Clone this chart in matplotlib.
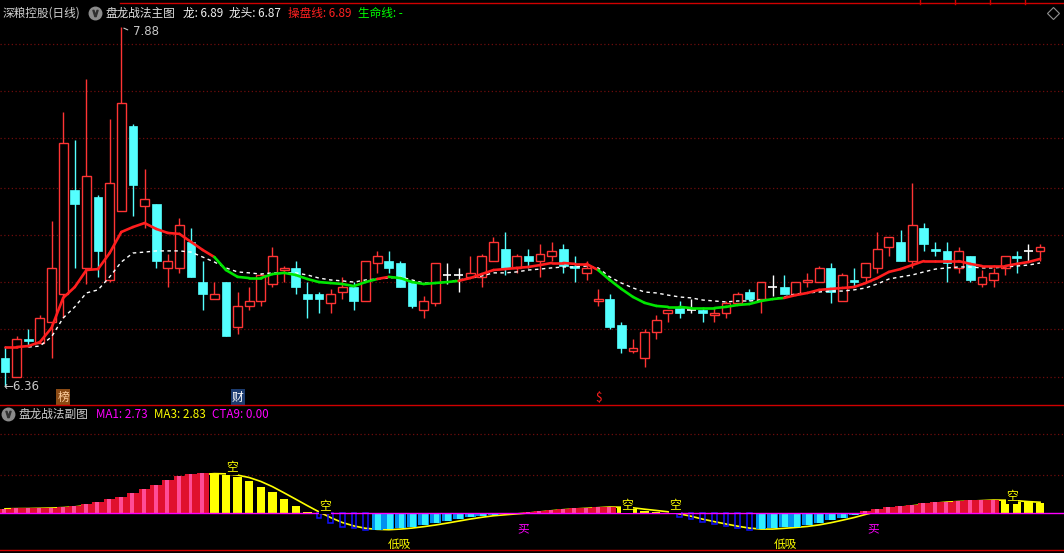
import matplotlib
matplotlib.use('Agg')
import matplotlib.pyplot as plt
import numpy as np
from matplotlib.patches import Rectangle
from matplotlib.collections import LineCollection
from matplotlib.lines import Line2D

plt.rcParams['font.family'] = ['Noto Sans CJK SC', 'DejaVu Sans']

nan = np.nan
opens = [6.48,6.40,6.56,6.54,6.63,6.75,7.19,6.86,7.16,6.81,
         7.10,7.46,7.12,7.13,6.86,6.86,6.97,6.80,6.73,6.80,
         6.61,6.70,6.72,6.79,6.85,6.86,6.75,6.75,6.71,6.76,
         6.78,6.72,6.88,6.89,6.88,6.80,6.68,6.71,6.83,6.83,
         6.82,6.82,6.89,6.94,6.86,6.91,6.89,6.91,6.94,6.87,
         6.84,6.72,6.73,6.62,6.51,6.48,6.59,6.67,6.69,6.68,
         6.68,6.66,6.67,6.71,6.76,6.73,6.78,6.78,6.75,6.80,
         6.80,6.86,6.72,6.81,6.82,6.86,6.95,6.97,6.89,7.03,
         6.94,6.93,6.86,6.91,6.79,6.81,6.86,6.91,6.93,6.93]
highs = [6.53,6.57,6.60,6.66,7.06,7.52,7.40,7.66,7.17,7.49,
         7.88,7.47,7.28,7.13,6.92,7.07,7.03,6.89,6.80,6.80,
         6.76,6.78,6.84,6.95,6.87,6.89,6.80,6.76,6.77,6.82,
         6.80,6.89,6.93,6.93,6.89,6.81,6.74,6.88,6.88,6.86,
         6.91,6.92,6.99,7.01,6.92,6.94,6.96,6.97,6.96,6.91,
         6.89,6.77,6.75,6.63,6.56,6.60,6.66,6.68,6.72,6.73,
         6.69,6.69,6.72,6.76,6.77,6.80,6.83,6.83,6.80,6.84,
         6.87,6.88,6.84,6.86,6.88,7.01,6.99,7.02,7.22,7.05,
         6.97,6.97,6.95,6.91,6.85,6.86,6.91,6.93,6.96,6.96]
lows = [6.36,6.40,6.53,6.54,6.48,6.65,6.86,6.79,6.82,6.80,
        7.10,7.08,7.03,6.86,6.78,6.84,6.82,6.68,6.73,6.57,
        6.58,6.68,6.70,6.78,6.80,6.75,6.65,6.67,6.67,6.73,
        6.68,6.72,6.84,6.84,6.78,6.69,6.65,6.70,6.79,6.76,
        6.82,6.78,6.89,6.83,6.84,6.86,6.82,6.89,6.84,6.80,
        6.81,6.70,6.60,6.50,6.50,6.44,6.56,6.63,6.65,6.67,
        6.63,6.63,6.65,6.71,6.72,6.67,6.74,6.75,6.75,6.78,
        6.80,6.71,6.72,6.78,6.80,6.84,6.91,6.89,6.86,6.93,
        6.91,6.80,6.84,6.80,6.78,6.78,6.83,6.84,6.89,6.89]
closes = [6.42,6.56,6.55,6.65,6.86,7.39,7.13,7.25,6.93,7.22,
          7.56,7.21,7.15,6.89,6.89,7.04,6.82,6.75,6.75,6.57,
          6.70,6.72,6.83,6.91,6.86,6.78,6.73,6.73,6.75,6.78,
          6.72,6.89,6.91,6.86,6.78,6.70,6.72,6.88,6.83,6.83,
          6.84,6.91,6.97,6.86,6.91,6.89,6.92,6.93,6.87,6.86,
          6.86,6.73,6.61,6.52,6.52,6.59,6.64,6.68,6.67,6.68,
          6.67,6.67,6.71,6.75,6.73,6.80,6.78,6.75,6.80,6.81,
          6.86,6.76,6.83,6.80,6.88,6.94,6.99,6.89,7.04,6.96,
          6.93,6.88,6.93,6.81,6.82,6.84,6.91,6.90,6.93,6.95]

# 操盘线 (red / green trend line)
trade_line = [6.525,6.525,6.529,6.546,6.606,6.733,6.779,6.851,6.855,6.923,
              7.012,7.033,7.050,7.025,7.008,7.004,6.970,6.936,6.906,6.851,
              6.822,6.817,6.817,6.834,6.839,6.830,6.813,6.800,6.796,6.792,
              6.783,6.800,6.813,6.822,6.817,6.800,6.792,6.796,6.800,6.805,
              6.817,6.834,6.851,6.855,6.860,6.864,6.872,6.881,6.881,6.877,
              6.877,6.851,6.809,6.771,6.737,6.712,6.699,6.695,6.695,6.690,
              6.690,6.690,6.695,6.703,6.707,6.720,6.728,6.733,6.745,6.754,
              6.767,6.771,6.775,6.779,6.796,6.817,6.843,6.855,6.872,6.889,
              6.889,6.889,6.889,6.877,6.868,6.868,6.868,6.877,6.885,6.898]
trade_state = ("R" * 19 + "G" * 14 + "R" + "G" * 6 + "R" * 12 + "G" * 16 + "R" * 22)
# 龙头 (white dashed)
dragon_line = [nan,nan,6.525,6.529,6.568,6.648,6.695,6.754,6.767,6.822,
               6.885,6.923,6.927,6.932,6.932,6.932,6.927,6.906,6.885,6.860,
               6.843,6.839,6.834,6.839,6.839,6.839,6.830,6.817,6.809,6.805,
               6.800,6.809,6.813,6.817,6.822,6.809,6.796,6.796,6.800,6.809,
               6.817,6.826,6.839,6.839,6.843,6.851,6.855,6.860,6.864,6.864,
               6.868,6.860,6.822,6.796,6.775,6.758,6.754,6.745,6.737,6.733,
               6.724,6.720,6.716,6.720,6.720,6.724,6.728,6.737,6.750,6.754,
               6.758,6.762,6.762,6.767,6.775,6.792,6.813,6.822,6.830,6.843,
               6.855,6.860,6.864,6.864,6.860,6.860,6.864,6.868,6.872,6.881]

main_grid = [7.81, 7.61, 7.41, 7.20, 7.00, 6.80, 6.60, 6.40]
event_idx = [5, 20, 51]
event_text = ['榜', '财', '$']

# sub chart
ma1 = [1.1,1.2,1.2,1.3,1.4,1.6,1.9,2.4,2.9,3.6,
       4.3,5.2,6.4,7.4,8.7,9.7,10.2,10.5,10.4,10.0,
       9.5,8.5,6.9,5.4,3.6,1.9,0.3,-1.3,-2.6,-3.6,
       -4.0,-4.5,-4.4,-4.3,-4.0,-3.6,-3.2,-2.7,-2.1,-1.6,
       -1.1,-0.7,-0.4,-0.3,0.0,0.3,0.6,0.9,1.1,1.2,
       1.4,1.6,1.7,1.3,1.1,0.6,0.3,0.05,-1.0,-1.6,
       -2.3,-2.9,-3.5,-4.0,-4.4,-4.3,-4.0,-3.8,-3.6,-3.2,
       -2.6,-1.9,-1.2,-0.5,0.6,1.1,1.6,1.9,2.2,2.6,
       3.0,3.0,3.1,3.3,3.4,3.5,3.2,3.0,2.8,2.73]
ma3 = [1.1,1.15,1.17,1.23,1.3,1.43,1.63,1.97,2.4,2.97,
       3.6,4.37,5.3,6.33,7.5,8.6,9.53,10.13,10.37,10.3,
       9.97,9.33,8.3,6.93,5.3,3.63,1.93,0.3,-1.2,-2.5,
       -3.4,-4.03,-4.3,-4.4,-4.23,-3.97,-3.6,-3.17,-2.67,-2.13,
       -1.6,-1.13,-0.73,-0.47,-0.23,0.0,0.3,0.6,0.87,1.07,
       1.23,1.4,1.57,1.53,1.37,1.0,0.67,0.32,-0.22,-0.85,
       -1.63,-2.27,-2.9,-3.47,-3.97,-4.23,-4.23,-4.03,-3.8,-3.53,
       -3.13,-2.57,-1.9,-1.2,-0.37,0.4,1.1,1.53,1.9,2.23,
       2.6,2.87,3.03,3.13,3.27,3.4,3.37,3.23,3.0,2.83]
sub_grid = [10.0, 20.8]
sig_pos = [19.5, 27.5, 33.9, 44.6, 53.5, 57.6, 67.1, 74.7, 86.6]
sig_val = [11.8, 1.6, -8.4, -4.2, 1.8, 1.8, -8.4, -4.2, 4.2]
sig_text = ['空', '空', '低吸', '买', '空', '空', '低吸', '买', '空']

W, H = 1064, 553
SP = 11.63  # pixel spacing of bars
n = len(closes)
xs = np.arange(n)

fig = plt.figure(figsize=(W / 100, H / 100), dpi=100, facecolor='black')

def fy(py):
    return 1 - py / H

xl = (-5 / SP, (W - 5) / SP)

# ---------------- main chart ----------------
ax = fig.add_axes([0, fy(405), 1, (405 - 3) / H])
ax.set_axis_off()
ax.set_xlim(*xl)
ppu = 236.2
ax.set_ylim(6.36 - 19 / ppu, 7.88 + 24 / ppu)

for g in main_grid:
    ax.axhline(g, color='#6e0c0c', lw=0.9, ls=(0, (1, 2)), zorder=0)

RED = '#ff3434'
CYAN = '#54ffff'
bw = 0.76
for i in range(n):
    o, h, l, c = opens[i], highs[i], lows[i], closes[i]
    if c > o:
        ax.vlines(i, l, h, color=RED, lw=1, zorder=2)
        ax.add_patch(Rectangle((i - bw / 2, o), bw, c - o, fc='black', ec=RED, lw=1, zorder=3))
    elif c < o:
        ax.vlines(i, l, h, color=CYAN, lw=1, zorder=2)
        ax.add_patch(Rectangle((i - bw / 2, c), bw, o - c, fc=CYAN, ec=CYAN, lw=0.5, zorder=3))
    else:
        ax.vlines(i, l, h, color='white', lw=1, zorder=2)
        ax.hlines(o, i - bw / 2, i + bw / 2, color='white', lw=1.2, zorder=3)

ax.plot(xs, dragon_line, color='white', lw=1.0, dashes=(2.5, 2.5), zorder=4)
pts = np.column_stack([xs, trade_line])
segs = [pts[i - 1:i + 1] for i in range(1, n)]
cols = ['#ff1e1e' if trade_state[i] == 'R' else '#00e600' for i in range(1, n)]
ax.add_collection(LineCollection(segs, colors=cols, linewidths=1.9, zorder=5, capstyle='round'))

imax = int(np.argmax(highs))
imin = int(np.argmin(lows))
ax.annotate('', xy=(imax, highs[imax]), xytext=(9, -4), textcoords='offset pixels',
            arrowprops=dict(arrowstyle='-', color='#c8c8c8', lw=0.8))
ax.annotate(f'{highs[imax]:.2f}', xy=(imax, highs[imax]), xytext=(12, -5), textcoords='offset pixels',
            color='#c8c8c8', fontsize=8.5, va='center', ha='left', family='DejaVu Sans')
ax.annotate(f'←{lows[imin]:.2f}', xy=(imin, lows[imin]), xytext=(-2, 0), textcoords='offset pixels',
            color='#c8c8c8', fontsize=8.5, va='center', ha='left', family='DejaVu Sans')

ev_y = 6.36 - 11 / ppu
ev_style = {'榜': dict(color='#ffd0a0', bbox=dict(fc='#8a4a14', ec='none', pad=0.8)),
            '财': dict(color='white', bbox=dict(fc='#1c3c70', ec='none', pad=0.8)),
            '$': dict(color='#ff2020')}
for i, t in zip(event_idx, event_text):
    ax.text(i, ev_y, t, ha='center', va='center', fontsize=8.5, zorder=6, **ev_style[t])

# ---------------- sub chart ----------------
ax2 = fig.add_axes([0, fy(550), 1, (550 - 405) / H])
ax2.set_axis_off()
ax2.set_xlim(*xl)
spu = 3.8
ax2.set_ylim(-(550 - 513) / spu, (513 - 405) / spu)
for g in sub_grid:
    ax2.axhline(g, color='#6e0c0c', lw=0.9, ls=(0, (1, 2)), zorder=0)

ax2.plot(xs, ma3, color='#ffff00', lw=1.2, zorder=1)
for i in range(n):
    v = ma1[i]
    prev = ma1[i - 1] if i > 0 else v
    if v >= 0 and v >= prev:
        ax2.add_patch(Rectangle((i - 0.5, 0), 1.0, v, fc='#e0102e', ec='none', zorder=2))
        ax2.add_patch(Rectangle((i - 0.22, 0), 0.34, v, fc='#ff4c96', ec='none', zorder=2))
    elif v >= 0:
        ax2.add_patch(Rectangle((i - 0.36, 0), 0.72, v, fc='#ffff00', ec='none', zorder=2))
    elif v < prev:
        ax2.add_patch(Rectangle((i - 0.2, v), 0.4, -v, fc='none', ec='#1010ff', lw=1.1, zorder=2))
    else:
        ax2.add_patch(Rectangle((i - 0.46, v), 0.92, -v, fc='#0090f0', ec='none', zorder=2))
        ax2.add_patch(Rectangle((i - 0.15, v), 0.5, -v, fc='#30f0ff', ec='none', zorder=2))
ax2.axhline(0, color='#ff00ff', lw=1.0, zorder=3)

for p, v, t in zip(sig_pos, sig_val, sig_text):
    c = '#ff00ff' if t == '买' else '#ffff00'
    ax2.text(p, v, t, color=c, ha='center', va='center', fontsize=8.5, zorder=6,
             bbox=dict(fc='black', ec='none', pad=0.2))

# ---------------- frame lines ----------------
for py, x0 in [(2.5, 120), (405, 0), (550, 0)]:
    fig.add_artist(Line2D([x0 / W, 1], [fy(py), fy(py)], color='#d00000', lw=1.0))
for px in [920, 955, 990, 1025]:
    fig.add_artist(Line2D([px / W, px / W], [fy(0), fy(4)], color='#d00000', lw=1.0))
fig.add_artist(Line2D([1053 / W], [fy(13)], marker='D', ms=6, mfc='none', mec='#909090', mew=0.8))

# ---------------- headers ----------------
def icon(px, py):
    fig.add_artist(Line2D([px / W], [fy(py)], marker='o', ms=9, mfc='#8c8c8c', mec='#8c8c8c'))
    fig.add_artist(Line2D([px / W], [fy(py)], marker=r'$\vee$', ms=4.5, mfc='#303030', mec='#303030'))

FS = 8.4
hy = 13
fig.text(3 / W, fy(hy), '深粮控股(日线)', color='#d0d0d0', fontsize=FS, va='center')
icon(95, hy)
fig.text(105 / W, fy(hy), '盘龙战法主图', color='#e0e0e0', fontsize=FS, va='center')
fig.text(183 / W, fy(hy), '龙: 6.89', color='#f0f0f0', fontsize=FS, va='center')
fig.text(229 / W, fy(hy), '龙头: 6.87', color='#f0f0f0', fontsize=FS, va='center')
fig.text(288 / W, fy(hy), '操盘线: 6.89', color='#ff2020', fontsize=FS, va='center')
fig.text(358 / W, fy(hy), '生命线: -', color='#00ff00', fontsize=FS, va='center')

sy = 414
icon(8, sy)
fig.text(18 / W, fy(sy), '盘龙战法副图', color='#d0d0d0', fontsize=FS, va='center')
fig.text(96 / W, fy(sy), 'MA1: 2.73', color='#ff00ff', fontsize=FS, va='center')
fig.text(154 / W, fy(sy), 'MA3: 2.83', color='#ffff00', fontsize=FS, va='center')
fig.text(212 / W, fy(sy), 'CTA9: 0.00', color='#ff00ff', fontsize=FS, va='center')

fig.savefig('out.png', dpi=100, facecolor='black')
